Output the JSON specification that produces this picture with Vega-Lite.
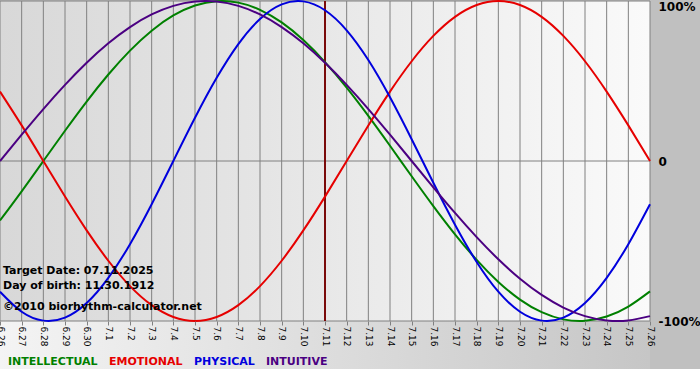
{
  "$schema": "https://vega.github.io/schema/vega-lite/v6.json",
  "width": 650,
  "height": 320,
  "autosize": "none",
  "padding": {"left": 0, "top": 1, "right": 50, "bottom": 59},
  "background": "#c0c0c0",
  "config": {
    "view": {"stroke": null},
    "font": "DejaVu Sans",
    "axis": {"domain": false, "grid": false, "zindex": 1}
  },
  "data": {
    "values": [
      {"date": "2025-06-26", "INTELLECTUAL": -0.3717, "EMOTIONAL": 0.4339, "PHYSICAL": -0.8170, "INTUITIVE": 0},
      {"date": "2025-06-27", "INTELLECTUAL": -0.1893, "EMOTIONAL": 0.2225, "PHYSICAL": -0.9423, "INTUITIVE": 0.1646},
      {"date": "2025-06-28", "INTELLECTUAL": 0, "EMOTIONAL": 0, "PHYSICAL": -0.9977, "INTUITIVE": 0.3247},
      {"date": "2025-06-29", "INTELLECTUAL": 0.1893, "EMOTIONAL": -0.2225, "PHYSICAL": -0.9791, "INTUITIVE": 0.4759},
      {"date": "2025-06-30", "INTELLECTUAL": 0.3717, "EMOTIONAL": -0.4339, "PHYSICAL": -0.8879, "INTUITIVE": 0.6142},
      {"date": "2025-07-01", "INTELLECTUAL": 0.5406, "EMOTIONAL": -0.6235, "PHYSICAL": -0.7308, "INTUITIVE": 0.7357},
      {"date": "2025-07-02", "INTELLECTUAL": 0.6901, "EMOTIONAL": -0.7818, "PHYSICAL": -0.5196, "INTUITIVE": 0.8372},
      {"date": "2025-07-03", "INTELLECTUAL": 0.8146, "EMOTIONAL": -0.9010, "PHYSICAL": -0.2698, "INTUITIVE": 0.9158},
      {"date": "2025-07-04", "INTELLECTUAL": 0.9096, "EMOTIONAL": -0.9749, "PHYSICAL": 0, "INTUITIVE": 0.9694},
      {"date": "2025-07-05", "INTELLECTUAL": 0.9718, "EMOTIONAL": -1, "PHYSICAL": 0.2698, "INTUITIVE": 0.9966},
      {"date": "2025-07-06", "INTELLECTUAL": 0.9989, "EMOTIONAL": -0.9749, "PHYSICAL": 0.5196, "INTUITIVE": 0.9966},
      {"date": "2025-07-07", "INTELLECTUAL": 0.9898, "EMOTIONAL": -0.9010, "PHYSICAL": 0.7308, "INTUITIVE": 0.9694},
      {"date": "2025-07-08", "INTELLECTUAL": 0.9450, "EMOTIONAL": -0.7818, "PHYSICAL": 0.8879, "INTUITIVE": 0.9158},
      {"date": "2025-07-09", "INTELLECTUAL": 0.8660, "EMOTIONAL": -0.6235, "PHYSICAL": 0.9791, "INTUITIVE": 0.8372},
      {"date": "2025-07-10", "INTELLECTUAL": 0.7557, "EMOTIONAL": -0.4339, "PHYSICAL": 0.9977, "INTUITIVE": 0.7357},
      {"date": "2025-07-11", "INTELLECTUAL": 0.6182, "EMOTIONAL": -0.2225, "PHYSICAL": 0.9423, "INTUITIVE": 0.6142},
      {"date": "2025-07-12", "INTELLECTUAL": 0.4582, "EMOTIONAL": 0, "PHYSICAL": 0.8170, "INTUITIVE": 0.4759},
      {"date": "2025-07-13", "INTELLECTUAL": 0.2817, "EMOTIONAL": 0.2225, "PHYSICAL": 0.6311, "INTUITIVE": 0.3247},
      {"date": "2025-07-14", "INTELLECTUAL": 0.0951, "EMOTIONAL": 0.4339, "PHYSICAL": 0.3984, "INTUITIVE": 0.1646},
      {"date": "2025-07-15", "INTELLECTUAL": -0.0951, "EMOTIONAL": 0.6235, "PHYSICAL": 0.1362, "INTUITIVE": 0},
      {"date": "2025-07-16", "INTELLECTUAL": -0.2817, "EMOTIONAL": 0.7818, "PHYSICAL": -0.1362, "INTUITIVE": -0.1646},
      {"date": "2025-07-17", "INTELLECTUAL": -0.4582, "EMOTIONAL": 0.9010, "PHYSICAL": -0.3984, "INTUITIVE": -0.3247},
      {"date": "2025-07-18", "INTELLECTUAL": -0.6182, "EMOTIONAL": 0.9749, "PHYSICAL": -0.6311, "INTUITIVE": -0.4759},
      {"date": "2025-07-19", "INTELLECTUAL": -0.7557, "EMOTIONAL": 1, "PHYSICAL": -0.8170, "INTUITIVE": -0.6142},
      {"date": "2025-07-20", "INTELLECTUAL": -0.8660, "EMOTIONAL": 0.9749, "PHYSICAL": -0.9423, "INTUITIVE": -0.7357},
      {"date": "2025-07-21", "INTELLECTUAL": -0.9450, "EMOTIONAL": 0.9010, "PHYSICAL": -0.9977, "INTUITIVE": -0.8372},
      {"date": "2025-07-22", "INTELLECTUAL": -0.9898, "EMOTIONAL": 0.7818, "PHYSICAL": -0.9791, "INTUITIVE": -0.9158},
      {"date": "2025-07-23", "INTELLECTUAL": -0.9989, "EMOTIONAL": 0.6235, "PHYSICAL": -0.8879, "INTUITIVE": -0.9694},
      {"date": "2025-07-24", "INTELLECTUAL": -0.9718, "EMOTIONAL": 0.4339, "PHYSICAL": -0.7308, "INTUITIVE": -0.9966},
      {"date": "2025-07-25", "INTELLECTUAL": -0.9096, "EMOTIONAL": 0.2225, "PHYSICAL": -0.5196, "INTUITIVE": -0.9966},
      {"date": "2025-07-26", "INTELLECTUAL": -0.8146, "EMOTIONAL": 0, "PHYSICAL": -0.2698, "INTUITIVE": -0.9694}
    ]
  },
  "layer": [
    {
      "data": {"values": [{}]},
      "mark": {"type": "rect", "clip": false, "fill": {"gradient": "linear", "x1": 0, "y1": 0, "x2": 1, "y2": 0, "stops": [{"offset": 0, "color": "#d8d8d8"}, {"offset": 0.5, "color": "#e8e8e8"}, {"offset": 1, "color": "#fafafa"}]}},
      "encoding": {
        "x": {"datum": {"year": 2025, "month": 6, "date": 26, "utc": true}, "type": "temporal"},
        "x2": {"datum": {"year": 2025, "month": 7, "date": 26, "utc": true}},
        "y": {"datum": 1, "type": "quantitative"},
        "y2": {"datum": -1}
      }
    },
    {
      "data": {"values": [{}]},
      "mark": {"type": "rect", "clip": false, "fill": {"gradient": "linear", "x1": 0, "y1": 0, "x2": 1, "y2": 0, "stops": [{"offset": 0, "color": "#f4f4f4"}, {"offset": 1, "color": "#c6c6c6"}]}},
      "encoding": {
        "x": {"datum": {"year": 2025, "month": 6, "date": 26, "utc": true}, "type": "temporal"},
        "x2": {"datum": {"year": 2025, "month": 7, "date": 26, "utc": true}},
        "y": {"datum": -1, "type": "quantitative"},
        "y2": {"datum": -1.3}
      }
    },
    {
      "data": {"values": [{}]},
      "mark": {"type": "rect", "clip": false, "fill": "#ffffff"},
      "encoding": {
        "x": {"datum": {"year": 2025, "month": 6, "date": 25, "utc": true}, "type": "temporal"},
        "x2": {"datum": {"year": 2025, "month": 7, "date": 29, "utc": true}},
        "y": {"datum": -1.3, "type": "quantitative"},
        "y2": {"datum": -1.5}
      }
    },
    {
      "mark": {"type": "rule", "color": "#808080", "strokeWidth": 1},
      "encoding": {
        "x": {"field": "date", "type": "temporal", "title": null}
      }
    },
    {
      "data": {"values": [{}]},
      "mark": {"type": "rule", "color": "#808080", "strokeWidth": 1},
      "encoding": {"y": {"datum": 0, "type": "quantitative"}}
    },
    {
      "data": {"values": [{}]},
      "mark": {"type": "rule", "color": "#808080", "strokeWidth": 1},
      "encoding": {"y": {"datum": 1, "type": "quantitative"}}
    },
    {
      "data": {"values": [{}]},
      "mark": {"type": "rule", "color": "#808080", "strokeWidth": 1},
      "encoding": {"y": {"datum": -1, "type": "quantitative"}}
    },
    {
      "data": {"values": [{}]},
      "mark": {"type": "rule", "color": "#7a0a0a", "strokeWidth": 2},
      "encoding": {"x": {"datum": {"year": 2025, "month": 7, "date": 11, "utc": true}, "type": "temporal"}}
    },
    {
      "transform": [{"fold": ["INTELLECTUAL", "EMOTIONAL", "PHYSICAL", "INTUITIVE"], "as": ["series", "value"]}],
      "mark": {"type": "line", "strokeWidth": 2, "interpolate": "natural"},
      "encoding": {
        "x": {
          "field": "date", "type": "temporal", "title": null,
          "scale": {"type": "utc", "nice": false, "domain": [{"year": 2025, "month": 6, "date": 26, "utc": true}, {"year": 2025, "month": 7, "date": 26, "utc": true}]},
          "axis": {"labelExpr": "utcFormat(datum.value, '%-m.%-d')", "tickCount": {"interval": "day", "step": 1}, "labelAngle": 90, "labelAlign": "left", "labelBaseline": "middle", "labelFontSize": 9, "labelColor": "#000000", "labelPadding": 1, "ticks": true, "tickSize": 4, "tickColor": "#808080", "labelOverlap": false, "labelFlush": false, "zindex": 1}
        },
        "y": {
          "field": "value", "type": "quantitative", "title": null,
          "scale": {"domain": [-1, 1], "nice": false, "zero": false},
          "axis": {"orient": "right", "values": [-1, 0, 1], "labelExpr": "datum.value == 1 ? '100%' : datum.value == 0 ? '0' : '-100%'", "ticks": false, "labelPadding": 8, "labelFontSize": 12, "labelFontWeight": "bold", "labelColor": "#000000", "labelFlush": false, "labelBaseline": {"condition": {"test": "datum.value == 1", "value": "top"}, "value": "middle"}, "zindex": 1}
        },
        "color": {
          "field": "series", "type": "nominal",
          "scale": {"domain": ["INTELLECTUAL", "EMOTIONAL", "PHYSICAL", "INTUITIVE"], "range": ["#008000", "#e60000", "#0000dd", "#4b0082"]},
          "legend": {"orient": "none", "legendX": -3, "legendY": 355, "direction": "horizontal", "title": null, "symbolSize": 0, "symbolOpacity": 0, "symbolStrokeWidth": 0, "labelOffset": 0, "columnPadding": -1, "labelFontSize": 11, "labelFontWeight": "bold", "encode": {"labels": {"update": {"fill": {"scale": "color", "field": "value"}}}}}
        }
      }
    },
    {
      "data": {"values": [{}]},
      "mark": {"type": "text", "text": "Target Date: 07.11.2025", "align": "left", "baseline": "middle", "dx": 3, "fontSize": 11, "fontWeight": "bold", "fill": "#000000"},
      "encoding": {
        "x": {"datum": {"year": 2025, "month": 6, "date": 26, "utc": true}, "type": "temporal"},
        "y": {"datum": -0.6875, "type": "quantitative"}
      }
    },
    {
      "data": {"values": [{}]},
      "mark": {"type": "text", "text": "Day of birth: 11.30.1912", "align": "left", "baseline": "middle", "dx": 3, "fontSize": 11, "fontWeight": "bold", "fill": "#000000"},
      "encoding": {
        "x": {"datum": {"year": 2025, "month": 6, "date": 26, "utc": true}, "type": "temporal"},
        "y": {"datum": -0.78125, "type": "quantitative"}
      }
    },
    {
      "data": {"values": [{}]},
      "mark": {"type": "text", "text": "©2010 biorhythm-calculator.net", "align": "left", "baseline": "middle", "dx": 3, "fontSize": 11, "fontWeight": "bold", "fill": "#000000"},
      "encoding": {
        "x": {"datum": {"year": 2025, "month": 6, "date": 26, "utc": true}, "type": "temporal"},
        "y": {"datum": -0.9125, "type": "quantitative"}
      }
    }
  ]
}
